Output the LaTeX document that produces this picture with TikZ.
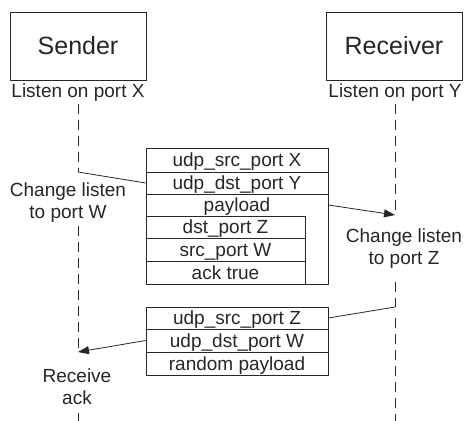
\documentclass[tikz,border=0pt]{standalone}
\usepackage{fontspec}
\setmainfont{Liberation Sans}
\usetikzlibrary{arrows.meta}
\begin{document}
\begin{tikzpicture}[x=1pt,y=-1pt,
  ink/.style={draw=black!85, line width=0.8pt},
  actor/.style={ink, minimum width=136pt, minimum height=68pt, inner sep=0pt, font=\fontsize{25}{28}\selectfont, text=black!85},
  lbl/.style={inner sep=0pt, font=\fontsize{19}{22}\selectfont, text=black!85, text height=13pt, text depth=0pt},
  mlbl/.style={inner sep=0pt, font=\fontsize{19}{22}\selectfont, text=black!85, align=center},
  cell/.style={ink, inner sep=0pt, minimum width=182pt, font=\fontsize{19}{22}\selectfont, text=black!85, text height=13pt, text depth=0pt},
  icell/.style={cell, minimum width=159pt},
  life/.style={ink, dash pattern=on 10pt off 6pt},
  msg/.style={ink},
  arr/.style={ink, -{Triangle[length=11pt,width=8pt]}}
]
\useasboundingbox (0,0) rectangle (464,421);

% actors
\node[actor] (sender) at (78,46) {Sender};
\node[actor] (receiver) at (394,46) {Receiver};
\node[lbl] (lx) at (78,90.5) {Listen on port X};
\node[lbl] (ly) at (395,90.5) {Listen on port Y};

% first packet
\node[cell, minimum height=24pt] (t1a) at (237,160) {udp\_src\_port X};
\node[cell, minimum height=22pt] (t1b) at (237,183) {udp\_dst\_port Y};
\node[cell, draw=none, minimum height=22pt] (t1c) at (237,205) {payload};
\draw[ink] (146,194) rectangle (328,284);
\node[icell, minimum height=22pt] (t1d) at (225.5,227) {dst\_port Z};
\node[icell, minimum height=23pt] (t1e) at (225.5,249.5) {src\_port W};
\node[icell, minimum height=23pt] (t1f) at (225.5,272.5) {ack true};

% second packet
\node[cell, minimum height=22pt] (t2a) at (237,318) {udp\_src\_port Z};
\node[cell, minimum height=23pt] (t2b) at (237,340.5) {udp\_dst\_port W};
\node[cell, minimum height=23pt] (t2c) at (237,363.5) {random payload};

% state labels
\node[mlbl] (cw) at (68,203) {Change listen\\to port W};
\node[mlbl] (cz) at (404,249) {Change listen\\to port Z};
\node[mlbl] (ra) at (77,387) {Receive\\ack};

% lifeline coordinates
\coordinate (s0) at (78,104);
\coordinate (s1) at (78,172);
\coordinate (s2) at (78,226);
\coordinate (s3) at (78,352);
\coordinate (s4) at (78,413);
\coordinate (s5) at (78,421);
\coordinate (r0) at (395,104);
\coordinate (r1) at (395,215);
\coordinate (r2) at (395,282);
\coordinate (r3) at (395,307);
\coordinate (r4) at (395,318);
\coordinate (r5) at (395,421);

% lifelines
\draw[life] (s0) -- (s1);
\draw[life] (s2) -- (s3);
\draw[life] (s4) -- (s5);
\draw[life] (r0) -- (r1);
\draw[life] (r2) -- (r3);
\draw[life] (r4) -- (r5);

% messages
\draw[msg] (s1) -- (t1b.west);
\draw[arr] (t1c.east) -- (r1);
\draw[msg] (r3) -- (t2a.east);
\draw[arr] (t2b.west) -- (s3);
\end{tikzpicture}
\end{document}
